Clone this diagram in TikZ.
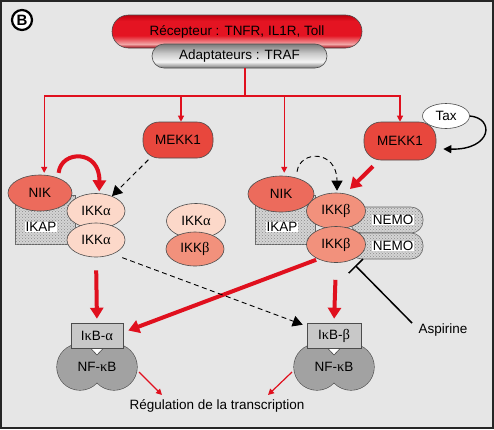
\documentclass[tikz,border=0pt]{standalone}
\usepackage{fontspec}
\setmainfont{Liberation Sans}
\newfontfamily\grk{Liberation Serif}
\newcommand\gk[1]{{\grk\fontsize{14.5}{15}\selectfont #1}}
\usetikzlibrary{arrows.meta,calc,patterns,shapes.geometric}
\definecolor{bg}{HTML}{E6E6E6}
\definecolor{rd}{HTML}{E0101E}
\definecolor{recD}{HTML}{A0000E}
\definecolor{recL}{HTML}{F2A6A6}
\definecolor{recM}{HTML}{E41422}
\definecolor{recT}{HTML}{C0000E}
\definecolor{gyD}{HTML}{7A7A7A}
\definecolor{gyL}{HTML}{F4F4F4}
\definecolor{gyM}{HTML}{C8C8C8}
\definecolor{mekc}{HTML}{E8473D}
\definecolor{nikc}{HTML}{EC6B5C}
\definecolor{ikkac}{HTML}{FCD8C9}
\definecolor{ikkbc}{HTML}{F2917C}
\definecolor{nfc}{HTML}{A2A2A2}
\definecolor{ikbc}{HTML}{C8C8C8}
\definecolor{ikapc}{HTML}{D4D4D4}
\pgfdeclareverticalshading{recshade}{100bp}{color(0bp)=(recD); color(25bp)=(recD); color(31bp)=(recL); color(44bp)=(recM); color(66bp)=(recM); color(75bp)=(recT); color(100bp)=(recT)}
\pgfdeclareverticalshading{gyshade}{100bp}{color(0bp)=(gyD); color(25bp)=(gyD); color(38bp)=(gyL); color(56bp)=(gyM); color(75bp)=(gyD); color(100bp)=(gyD)}
\tikzset{
  ell/.style={ellipse, draw=black!70, line width=0.6pt, inner sep=0pt},
  pillbox/.style={rectangle, draw=black!70, line width=0.6pt, inner sep=0pt},
  stip/.style={draw=black!60, line width=0.6pt, fill=ikapc, postaction={pattern=crosshatch dots, pattern color=black!45}},
  lbl/.style={fill=white, inner sep=0.6pt},
  rthin/.style={draw=rd, line width=1.2pt, -{Triangle[length=6pt,width=6pt]}},
  rthick/.style={draw=rd, line width=4pt, -{Triangle[length=11pt,width=13pt]}},
  dsh/.style={draw=black, line width=0.9pt, dash pattern=on 5pt off 3.5pt, -{Triangle[length=10pt,width=11pt]}},
  blkarr/.style={draw=black, line width=1.4pt, -{Triangle[length=8pt,width=8pt]}},
  nfline/.style={draw=black!70, line width=1.2pt},
  txt/.style={inner sep=0pt}
}
\begin{document}
\begin{tikzpicture}[x=1pt,y=-1pt, font=\fontsize{13.5}{15}\selectfont]
\useasboundingbox (0,0) rectangle (494,429);
\fill[bg] (0,0) rectangle (494,429);
\draw[line width=2pt, black!85] (1,1) rectangle (493,428);

\node[circle, draw=black, line width=2.2pt, fill=white, minimum size=20pt, inner sep=0pt,
      font=\bfseries\fontsize{15}{15}\selectfont] (B) at (22,20) {B};

% receptor and adaptor
\node[pillbox, shading=recshade, rounded corners=16.5pt, minimum width=250pt, minimum height=33pt] (rec) at (237,31.5) {Récepteur : TNFR, IL1R, Toll};
\node[pillbox, shading=gyshade, rounded corners=12pt, minimum width=175pt, minimum height=24pt] (adapt) at (239.5,56) {Adaptateurs : TRAF};

% left group
\node[stip, rectangle, minimum width=60pt, minimum height=49pt, inner sep=0pt] (ikapL) at (45,219.5) {};
\node[lbl] (ikapLt) at (41,227) {IKAP};
\node[ell, fill=nikc, minimum width=64pt, minimum height=36pt] (nikL) at (40,193) {NIK};
\node[ell, fill=ikkac, minimum width=58pt, minimum height=35pt] (ikkaT) at (96,211) {IKK\gk{α}};
\node[ell, fill=ikkac, minimum width=58pt, minimum height=34pt] (ikkaB) at (96,240) {IKK\gk{α}};

% MEKK1
\node[pillbox, fill=mekc, rounded corners=16pt, minimum width=70pt, minimum height=36pt] (mekL) at (178,140) {MEKK1};
\node[pillbox, fill=mekc, rounded corners=17pt, minimum width=72pt, minimum height=38pt] (mekR) at (400,141) {MEKK1};
\node[ell, fill=white, minimum width=47pt, minimum height=25pt] (tax) at (446,116) {Tax};

% middle pair
\node[ell, fill=ikkac, minimum width=59pt, minimum height=35pt] (ikkaM) at (196,221) {IKK\gk{α}};
\node[ell, fill=ikkbc, minimum width=58pt, minimum height=34pt] (ikkbM) at (195,249) {IKK\gk{β}};

% right group
\node[stip, rectangle, minimum width=60pt, minimum height=49pt, inner sep=0pt] (ikapR) at (285,219.5) {};
\node[lbl] (ikapRt) at (282,227) {IKAP};
\node[ell, fill=nikc, minimum width=66pt, minimum height=36pt] (nikR) at (281,194) {NIK};
\node[stip, rectangle, rounded corners=12pt, minimum width=73pt, minimum height=26pt, inner sep=0pt] (nemoT) at (386.5,220) {};
\node[stip, rectangle, rounded corners=12pt, minimum width=73pt, minimum height=26pt, inner sep=0pt] (nemoB) at (386.5,246) {};
\node[lbl] (nemoTt) at (393,220) {NEMO};
\node[lbl] (nemoBt) at (393,246) {NEMO};
\node[ell, fill=ikkbc, minimum width=59pt, minimum height=36pt] (ikkbT) at (336,211) {IKK\gk{β}};
\node[ell, fill=ikkbc, minimum width=59pt, minimum height=36pt] (ikkbB) at (336,244.5) {IKK\gk{β}};

% IkB / NF-kB left
\draw[nfline] (80,367) circle[radius=23pt] (114,367) circle[radius=23pt];
\fill[nfc] (80,367) circle[radius=23pt] (114,367) circle[radius=23pt];
\filldraw[fill=white, draw=black!70, line width=0.6pt] (89.5,347) -- (97,355) -- (104.5,347);
\node[pillbox, fill=ikbc, minimum width=52pt, minimum height=25pt] (ikba) at (97,335.5) {I\gk{κ}B-\gk{α}};
\node[txt] (nfa) at (97,367) {NF-\gk{κ}B};

% IkB / NF-kB right
\draw[nfline] (317,367) circle[radius=23pt] (351,367) circle[radius=23pt];
\fill[nfc] (317,367) circle[radius=23pt] (351,367) circle[radius=23pt];
\filldraw[fill=white, draw=black!70, line width=0.6pt] (326.5,347) -- (334,355) -- (341.5,347);
\node[pillbox, fill=ikbc, minimum width=54pt, minimum height=25pt] (ikbb) at (334,335.5) {I\gk{κ}B-\gk{β}};
\node[txt] (nfb) at (334,367) {NF-\gk{κ}B};

\node[txt] (asp) at (443,330) {Aspirine};
\node[txt] (reg) at (217,406) {Régulation de la transcription};

% tree from adaptor
\coordinate (h) at (245,96);
\coordinate (mLtop) at ($(mekL.north)+(3,0)$);
\draw[rd, line width=1.2pt] (adapt.south -| h) -- (h);
\draw[rthin, shorten >=2pt] (h) -| (nikL.77);
\draw[rthin, shorten >=3pt] (h) -| (nikR.80);
\draw[rthin] (h) -| (mLtop);
\draw[rthin] (h) -| (mekR.north);

% left group arrows
\draw[rthick, shorten <=5pt, shorten >=2pt] (nikL.40) .. controls ($(nikL.40)+(3,-28)$) and ($(ikkaT.80)+(1,-44)$) .. (ikkaT.80);
\draw[dsh, shorten <=2pt] (mekL.-147) -- (ikkaT.43);

% right group arrows
\draw[dsh] ($(nikR.north)+(16,-4)$) .. controls ($(nikR.north)+(19,-26)$) and ($(ikkbT.north)+(1,-43)$) .. ($(ikkbT.north)+(1,-2)$);
\draw[rthick] ($(mekR.south)+(-27,6)$) -- ($(ikkbT.center)+(14,-22)$);
\draw[blkarr] (tax.east) .. controls +(25,2) and +(49,1) .. ($(mekR.east)+(7,8)$);

% lower arrows
\draw[rthick, shorten <=13pt, shorten >=4pt] (ikkaB.south) -- (ikba.north);
\draw[rthick, shorten <=17pt, shorten >=4pt] (ikkbB.south) -- (ikbb.north);
\draw[rthick, shorten <=2pt] (ikkbB.-141) -- ($(ikba.east)+(5,-5)$);
\draw[dsh, shorten <=10pt] (ikkaB.-40) -- ($(ikbb.north west)+(-4,2)$);
\draw[black, line width=1.5pt, -{Bar[width=20pt,line width=1.5pt]}, shorten >=7pt] ($(asp.center)+(-31,-7)$) -- (ikkbB.-48);

% to transcription
\draw[rthin] ($(nfa)+(42,5)$) -- ($(reg)+(-55,-11)$);
\draw[rthin] ($(nfb)+(-42,5)$) -- ($(reg)+(51,-11)$);
\end{tikzpicture}
\end{document}
